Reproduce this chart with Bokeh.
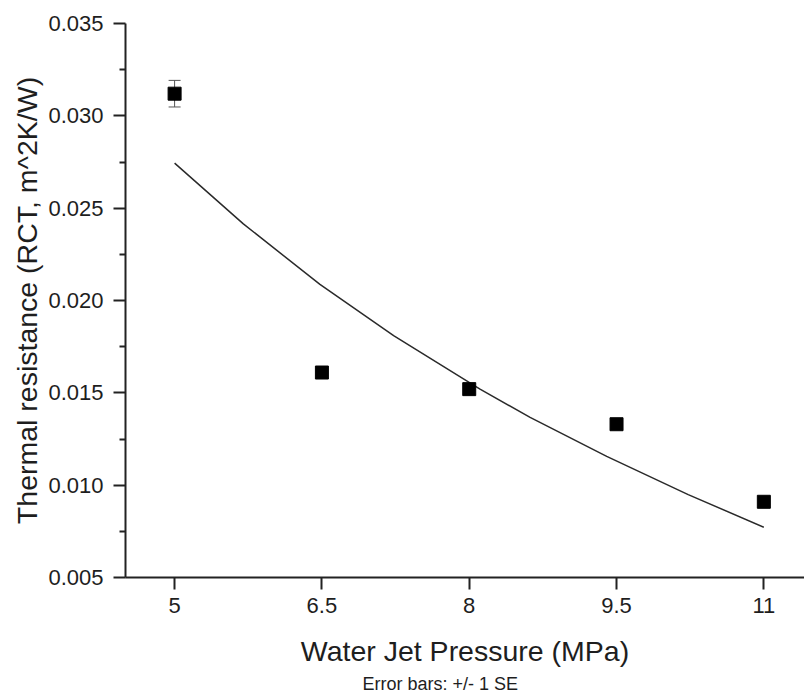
from bokeh.plotting import figure
from bokeh.models import ColumnDataSource, FixedTicker, PrintfTickFormatter, Whisker, TeeHead, Title
from bokeh.embed import file_html
from bokeh.resources import INLINE

# Data
pressure = [5, 6.5, 8, 9.5, 11]
resistance = [0.0312, 0.0161, 0.0152, 0.0133, 0.0091]
std_err = [0.00072, 0.0, 0.0, 0.0, 0.0]

fit_x = [5.0, 5.70, 6.48, 7.23, 8.11, 8.62, 9.40, 10.23, 11.0]
fit_y = [0.02744, 0.02415, 0.02087, 0.01810, 0.01520, 0.01367, 0.01156, 0.00949, 0.00772]

x_ticks = [5, 6.5, 8, 9.5, 11]
x_tick_labels = ["5", "6.5", "8", "9.5", "11"]
y_ticks = [0.005, 0.010, 0.015, 0.020, 0.025, 0.030, 0.035]
y_minor = [0.0075, 0.0125, 0.0175, 0.0225, 0.0275, 0.0325]

FONT = "Liberation Sans"
TXT = "#1e1e1e"

p = figure(width=804, height=696, x_range=(4.5, 11.414), y_range=(0.005, 0.035),
           output_backend="svg", toolbar_location=None,
           min_border_left=125, min_border_right=0, min_border_top=23, min_border_bottom=119)
p.outline_line_color = None
p.xgrid.visible = False
p.ygrid.visible = False
p.background_fill_color = "white"
p.border_fill_color = "white"

# fit curve
p.line(fit_x, fit_y, line_color="#2a2a2a", line_width=1.5)

# error bars
eb = [(x, y, e) for x, y, e in zip(pressure, resistance, std_err) if e > 0]
wsrc = ColumnDataSource(data=dict(
    x=[r[0] for r in eb],
    upper=[r[1] + r[2] for r in eb],
    lower=[r[1] - r[2] for r in eb],
))
w = Whisker(source=wsrc, base="x", upper="upper", lower="lower", dimension="height",
            line_color="#555555", line_width=1,
            upper_head=TeeHead(size=12, line_color="#555555", line_width=1),
            lower_head=TeeHead(size=12, line_color="#555555", line_width=1))
p.add_layout(w)

# points
p.scatter(pressure, resistance, marker="square", size=13, fill_color="black", line_color="black")

# x axis
xa = p.xaxis[0]
xa.ticker = FixedTicker(ticks=x_ticks, minor_ticks=[])
xa.major_label_overrides = {t: l for t, l in zip(x_ticks, x_tick_labels)}
xa.axis_label = "Water Jet Pressure (MPa)"
xa.axis_label_text_font = FONT
xa.axis_label_text_font_size = "28.5px"
xa.axis_label_text_font_style = "normal"
xa.axis_label_text_color = TXT
xa.axis_label_standoff = 19
xa.major_label_text_font = FONT
xa.major_label_text_font_size = "22px"
xa.major_label_text_color = TXT
xa.major_label_standoff = 8
xa.axis_line_width = 2
xa.axis_line_color = "#222222"
xa.major_tick_line_width = 2
xa.major_tick_line_color = "#222222"
xa.major_tick_out = 12
xa.major_tick_in = 0
xa.minor_tick_line_color = None

# y axis
ya = p.yaxis[0]
ya.ticker = FixedTicker(ticks=y_ticks, minor_ticks=y_minor)
ya.formatter = PrintfTickFormatter(format="%.3f")
ya.axis_label = "Thermal resistance (RCT, m^2K/W)"
ya.axis_label_text_font = FONT
ya.axis_label_text_font_size = "28.5px"
ya.axis_label_text_font_style = "normal"
ya.axis_label_text_color = TXT
ya.axis_label_standoff = 2
ya.major_label_text_font = FONT
ya.major_label_text_font_size = "22px"
ya.major_label_text_color = TXT
ya.major_label_standoff = 10
ya.axis_line_width = 2
ya.axis_line_color = "#222222"
ya.major_tick_line_width = 2
ya.major_tick_line_color = "#222222"
ya.major_tick_out = 12
ya.major_tick_in = 0
ya.minor_tick_line_width = 2
ya.minor_tick_line_color = "#222222"
ya.minor_tick_out = 6
ya.minor_tick_in = 0

note = Title(text="Error bars: +/- 1 SE", align="left", offset=237,
             text_font=FONT, text_font_size="18px", text_color=TXT,
             text_font_style="normal", standoff=4)
p.add_layout(note, "below")

open("out.html", "w").write(file_html(p, INLINE))
